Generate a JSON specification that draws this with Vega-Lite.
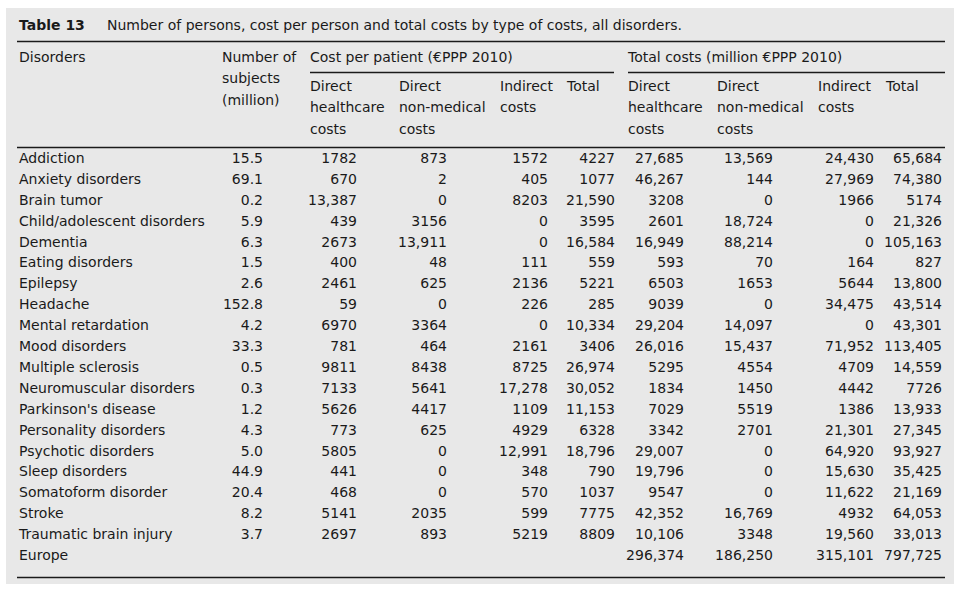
{
  "$schema": "https://vega.github.io/schema/vega-lite/v6.json",
  "background": "white",
  "padding": {"left": 6, "top": 8, "right": 0, "bottom": 0},
  "bounds": "flush",
  "spacing": 0,
  "config": {
    "view": {"stroke": null},
    "text": {"font": "DejaVu Sans", "fontSize": 14, "color": "#1a1a1a", "baseline": "middle", "lineHeight": 21.3},
    "rule": {"color": "#1a1a1a", "strokeWidth": 1.3}
  },
  "datasets": {
    "one": [{}],
    "rows": [
      {"disorder": "Addiction", "subjects": 15.5, "pp_direct_hc": 1782, "pp_direct_nm": 873, "pp_indirect": 1572, "pp_total": 4227, "tc_direct_hc": 27685, "tc_direct_nm": 13569, "tc_indirect": 24430, "tc_total": 65684},
      {"disorder": "Anxiety disorders", "subjects": 69.1, "pp_direct_hc": 670, "pp_direct_nm": 2, "pp_indirect": 405, "pp_total": 1077, "tc_direct_hc": 46267, "tc_direct_nm": 144, "tc_indirect": 27969, "tc_total": 74380},
      {"disorder": "Brain tumor", "subjects": 0.2, "pp_direct_hc": 13387, "pp_direct_nm": 0, "pp_indirect": 8203, "pp_total": 21590, "tc_direct_hc": 3208, "tc_direct_nm": 0, "tc_indirect": 1966, "tc_total": 5174},
      {"disorder": "Child/adolescent disorders", "subjects": 5.9, "pp_direct_hc": 439, "pp_direct_nm": 3156, "pp_indirect": 0, "pp_total": 3595, "tc_direct_hc": 2601, "tc_direct_nm": 18724, "tc_indirect": 0, "tc_total": 21326},
      {"disorder": "Dementia", "subjects": 6.3, "pp_direct_hc": 2673, "pp_direct_nm": 13911, "pp_indirect": 0, "pp_total": 16584, "tc_direct_hc": 16949, "tc_direct_nm": 88214, "tc_indirect": 0, "tc_total": 105163},
      {"disorder": "Eating disorders", "subjects": 1.5, "pp_direct_hc": 400, "pp_direct_nm": 48, "pp_indirect": 111, "pp_total": 559, "tc_direct_hc": 593, "tc_direct_nm": 70, "tc_indirect": 164, "tc_total": 827},
      {"disorder": "Epilepsy", "subjects": 2.6, "pp_direct_hc": 2461, "pp_direct_nm": 625, "pp_indirect": 2136, "pp_total": 5221, "tc_direct_hc": 6503, "tc_direct_nm": 1653, "tc_indirect": 5644, "tc_total": 13800},
      {"disorder": "Headache", "subjects": 152.8, "pp_direct_hc": 59, "pp_direct_nm": 0, "pp_indirect": 226, "pp_total": 285, "tc_direct_hc": 9039, "tc_direct_nm": 0, "tc_indirect": 34475, "tc_total": 43514},
      {"disorder": "Mental retardation", "subjects": 4.2, "pp_direct_hc": 6970, "pp_direct_nm": 3364, "pp_indirect": 0, "pp_total": 10334, "tc_direct_hc": 29204, "tc_direct_nm": 14097, "tc_indirect": 0, "tc_total": 43301},
      {"disorder": "Mood disorders", "subjects": 33.3, "pp_direct_hc": 781, "pp_direct_nm": 464, "pp_indirect": 2161, "pp_total": 3406, "tc_direct_hc": 26016, "tc_direct_nm": 15437, "tc_indirect": 71952, "tc_total": 113405},
      {"disorder": "Multiple sclerosis", "subjects": 0.5, "pp_direct_hc": 9811, "pp_direct_nm": 8438, "pp_indirect": 8725, "pp_total": 26974, "tc_direct_hc": 5295, "tc_direct_nm": 4554, "tc_indirect": 4709, "tc_total": 14559},
      {"disorder": "Neuromuscular disorders", "subjects": 0.3, "pp_direct_hc": 7133, "pp_direct_nm": 5641, "pp_indirect": 17278, "pp_total": 30052, "tc_direct_hc": 1834, "tc_direct_nm": 1450, "tc_indirect": 4442, "tc_total": 7726},
      {"disorder": "Parkinson's disease", "subjects": 1.2, "pp_direct_hc": 5626, "pp_direct_nm": 4417, "pp_indirect": 1109, "pp_total": 11153, "tc_direct_hc": 7029, "tc_direct_nm": 5519, "tc_indirect": 1386, "tc_total": 13933},
      {"disorder": "Personality disorders", "subjects": 4.3, "pp_direct_hc": 773, "pp_direct_nm": 625, "pp_indirect": 4929, "pp_total": 6328, "tc_direct_hc": 3342, "tc_direct_nm": 2701, "tc_indirect": 21301, "tc_total": 27345},
      {"disorder": "Psychotic disorders", "subjects": 5.0, "pp_direct_hc": 5805, "pp_direct_nm": 0, "pp_indirect": 12991, "pp_total": 18796, "tc_direct_hc": 29007, "tc_direct_nm": 0, "tc_indirect": 64920, "tc_total": 93927},
      {"disorder": "Sleep disorders", "subjects": 44.9, "pp_direct_hc": 441, "pp_direct_nm": 0, "pp_indirect": 348, "pp_total": 790, "tc_direct_hc": 19796, "tc_direct_nm": 0, "tc_indirect": 15630, "tc_total": 35425},
      {"disorder": "Somatoform disorder", "subjects": 20.4, "pp_direct_hc": 468, "pp_direct_nm": 0, "pp_indirect": 570, "pp_total": 1037, "tc_direct_hc": 9547, "tc_direct_nm": 0, "tc_indirect": 11622, "tc_total": 21169},
      {"disorder": "Stroke", "subjects": 8.2, "pp_direct_hc": 5141, "pp_direct_nm": 2035, "pp_indirect": 599, "pp_total": 7775, "tc_direct_hc": 42352, "tc_direct_nm": 16769, "tc_indirect": 4932, "tc_total": 64053},
      {"disorder": "Traumatic brain injury", "subjects": 3.7, "pp_direct_hc": 2697, "pp_direct_nm": 893, "pp_indirect": 5219, "pp_total": 8809, "tc_direct_hc": 10106, "tc_direct_nm": 3348, "tc_indirect": 19560, "tc_total": 33013},
      {"disorder": "Europe", "subjects": null, "pp_direct_hc": null, "pp_direct_nm": null, "pp_indirect": null, "pp_total": null, "tc_direct_hc": 296374, "tc_direct_nm": 186250, "tc_indirect": 315101, "tc_total": 797725}
    ]
  },
  "resolve": {"scale": {"x": "independent", "y": "independent"}},
  "hconcat": [
    {
      "width": 216, "height": 576,
      "layer": [
        {"data": {"name": "one"}, "mark": {"type": "rect", "color": "#e8e8e8"}, "encoding": {"x": {"value": 0}, "x2": {"value": 948}, "y": {"value": 0}, "y2": {"value": "height"}}},
        {"data": {"name": "one"}, "mark": {"type": "text", "align": "left", "fontWeight": "bold"}, "encoding": {"x": {"value": 13}, "y": {"value": 18}, "text": {"value": "Table 13"}}},
        {"data": {"name": "one"}, "mark": {"type": "text", "align": "left"}, "encoding": {"x": {"value": 101}, "y": {"value": 18}, "text": {"value": "Number of persons, cost per person and total costs by type of costs, all disorders."}}},
        {"data": {"name": "one"}, "mark": "rule", "encoding": {"y": {"value": 33.5}, "x": {"value": 11}, "x2": {"value": "width"}}},
        {"data": {"name": "one"}, "mark": {"type": "text", "align": "left"}, "encoding": {"x": {"value": 13}, "y": {"value": 50}, "text": {"value": "Disorders"}}},
        {"data": {"name": "one"}, "mark": "rule", "encoding": {"y": {"value": 139.5}, "x": {"value": 11}, "x2": {"value": "width"}}},
        {"data": {"name": "one"}, "mark": "rule", "encoding": {"y": {"value": 569.5}, "x": {"value": 11}, "x2": {"value": "width"}}},
        {"data": {"name": "rows"}, "mark": {"type": "text", "align": "left"},
         "encoding": {"x": {"value": 13}, "y": {"field": "disorder", "type": "nominal", "sort": null, "scale": {"type": "point", "range": [151, 548], "padding": 0}, "axis": null}, "text": {"field": "disorder", "type": "nominal"}}}
      ]
    },
    {
      "width": 88, "height": 576,
      "layer": [
        {"data": {"name": "one"}, "mark": "rule", "encoding": {"y": {"value": 33.5}}},
        {"data": {"name": "one"}, "mark": {"type": "text", "align": "left"}, "encoding": {"x": {"value": 0}, "y": {"value": 50}, "text": {"value": ["Number of", "subjects", "(million)"]}}},
        {"data": {"name": "one"}, "mark": "rule", "encoding": {"y": {"value": 139.5}}},
        {"data": {"name": "one"}, "mark": "rule", "encoding": {"y": {"value": 569.5}}},
        {"data": {"name": "rows"}, "mark": {"type": "text", "align": "right"},
         "encoding": {"x": {"value": 41}, "y": {"field": "disorder", "type": "nominal", "sort": null, "scale": {"type": "point", "range": [151, 548], "padding": 0}, "axis": null},
           "text": {"condition": {"test": "isValid(datum.subjects)", "field": "subjects", "type": "quantitative", "format": ".1f"}, "value": ""}}}
      ]
    },
    {
      "width": 89, "height": 576,
      "layer": [
        {"data": {"name": "one"}, "mark": "rule", "encoding": {"y": {"value": 33.5}}},
        {"data": {"name": "one"}, "mark": {"type": "text", "align": "left"}, "encoding": {"x": {"value": 0}, "y": {"value": 50}, "text": {"value": "Cost per patient (€PPP 2010)"}}},
        {"data": {"name": "one"}, "mark": "rule", "encoding": {"y": {"value": 64.5}}},
        {"data": {"name": "one"}, "mark": {"type": "text", "align": "left"}, "encoding": {"x": {"value": 0}, "y": {"value": 79}, "text": {"value": ["Direct", "healthcare", "costs"]}}},
        {"data": {"name": "one"}, "mark": "rule", "encoding": {"y": {"value": 139.5}}},
        {"data": {"name": "one"}, "mark": "rule", "encoding": {"y": {"value": 569.5}}},
        {"data": {"name": "rows"}, "mark": {"type": "text", "align": "right"},
         "encoding": {"x": {"value": 47}, "y": {"field": "disorder", "type": "nominal", "sort": null, "scale": {"type": "point", "range": [151, 548], "padding": 0}, "axis": null},
           "text": {"condition": {"test": "isValid(datum.pp_direct_hc) && datum.pp_direct_hc < 10000", "field": "pp_direct_hc", "type": "quantitative", "format": "d"}, "value": ""}}},
        {"data": {"name": "rows"}, "mark": {"type": "text", "align": "right"},
         "encoding": {"x": {"value": 47}, "y": {"field": "disorder", "type": "nominal", "sort": null, "scale": {"type": "point", "range": [151, 548], "padding": 0}, "axis": null},
           "text": {"condition": {"test": "isValid(datum.pp_direct_hc) && datum.pp_direct_hc >= 10000", "field": "pp_direct_hc", "type": "quantitative", "format": ","}, "value": ""}}}
      ]
    },
    {
      "width": 101, "height": 576,
      "layer": [
        {"data": {"name": "one"}, "mark": "rule", "encoding": {"y": {"value": 33.5}}},
        {"data": {"name": "one"}, "mark": "rule", "encoding": {"y": {"value": 64.5}}},
        {"data": {"name": "one"}, "mark": {"type": "text", "align": "left"}, "encoding": {"x": {"value": 0}, "y": {"value": 79}, "text": {"value": ["Direct", "non-medical", "costs"]}}},
        {"data": {"name": "one"}, "mark": "rule", "encoding": {"y": {"value": 139.5}}},
        {"data": {"name": "one"}, "mark": "rule", "encoding": {"y": {"value": 569.5}}},
        {"data": {"name": "rows"}, "mark": {"type": "text", "align": "right"},
         "encoding": {"x": {"value": 48}, "y": {"field": "disorder", "type": "nominal", "sort": null, "scale": {"type": "point", "range": [151, 548], "padding": 0}, "axis": null},
           "text": {"condition": {"test": "isValid(datum.pp_direct_nm) && datum.pp_direct_nm < 10000", "field": "pp_direct_nm", "type": "quantitative", "format": "d"}, "value": ""}}},
        {"data": {"name": "rows"}, "mark": {"type": "text", "align": "right"},
         "encoding": {"x": {"value": 48}, "y": {"field": "disorder", "type": "nominal", "sort": null, "scale": {"type": "point", "range": [151, 548], "padding": 0}, "axis": null},
           "text": {"condition": {"test": "isValid(datum.pp_direct_nm) && datum.pp_direct_nm >= 10000", "field": "pp_direct_nm", "type": "quantitative", "format": ","}, "value": ""}}}
      ]
    },
    {
      "width": 67, "height": 576,
      "layer": [
        {"data": {"name": "one"}, "mark": "rule", "encoding": {"y": {"value": 33.5}}},
        {"data": {"name": "one"}, "mark": "rule", "encoding": {"y": {"value": 64.5}}},
        {"data": {"name": "one"}, "mark": {"type": "text", "align": "left"}, "encoding": {"x": {"value": 0}, "y": {"value": 79}, "text": {"value": ["Indirect", "costs"]}}},
        {"data": {"name": "one"}, "mark": "rule", "encoding": {"y": {"value": 139.5}}},
        {"data": {"name": "one"}, "mark": "rule", "encoding": {"y": {"value": 569.5}}},
        {"data": {"name": "rows"}, "mark": {"type": "text", "align": "right"},
         "encoding": {"x": {"value": 48}, "y": {"field": "disorder", "type": "nominal", "sort": null, "scale": {"type": "point", "range": [151, 548], "padding": 0}, "axis": null},
           "text": {"condition": {"test": "isValid(datum.pp_indirect) && datum.pp_indirect < 10000", "field": "pp_indirect", "type": "quantitative", "format": "d"}, "value": ""}}},
        {"data": {"name": "rows"}, "mark": {"type": "text", "align": "right"},
         "encoding": {"x": {"value": 48}, "y": {"field": "disorder", "type": "nominal", "sort": null, "scale": {"type": "point", "range": [151, 548], "padding": 0}, "axis": null},
           "text": {"condition": {"test": "isValid(datum.pp_indirect) && datum.pp_indirect >= 10000", "field": "pp_indirect", "type": "quantitative", "format": ","}, "value": ""}}}
      ]
    },
    {
      "width": 61, "height": 576,
      "layer": [
        {"data": {"name": "one"}, "mark": "rule", "encoding": {"y": {"value": 33.5}}},
        {"data": {"name": "one"}, "mark": "rule", "encoding": {"y": {"value": 64.5}, "x": {"value": 0}, "x2": {"value": 47}}},
        {"data": {"name": "one"}, "mark": {"type": "text", "align": "left"}, "encoding": {"x": {"value": 0}, "y": {"value": 79}, "text": {"value": "Total"}}},
        {"data": {"name": "one"}, "mark": "rule", "encoding": {"y": {"value": 139.5}}},
        {"data": {"name": "one"}, "mark": "rule", "encoding": {"y": {"value": 569.5}}},
        {"data": {"name": "rows"}, "mark": {"type": "text", "align": "right"},
         "encoding": {"x": {"value": 48}, "y": {"field": "disorder", "type": "nominal", "sort": null, "scale": {"type": "point", "range": [151, 548], "padding": 0}, "axis": null},
           "text": {"condition": {"test": "isValid(datum.pp_total) && datum.pp_total < 10000", "field": "pp_total", "type": "quantitative", "format": "d"}, "value": ""}}},
        {"data": {"name": "rows"}, "mark": {"type": "text", "align": "right"},
         "encoding": {"x": {"value": 48}, "y": {"field": "disorder", "type": "nominal", "sort": null, "scale": {"type": "point", "range": [151, 548], "padding": 0}, "axis": null},
           "text": {"condition": {"test": "isValid(datum.pp_total) && datum.pp_total >= 10000", "field": "pp_total", "type": "quantitative", "format": ","}, "value": ""}}}
      ]
    },
    {
      "width": 89, "height": 576,
      "layer": [
        {"data": {"name": "one"}, "mark": "rule", "encoding": {"y": {"value": 33.5}}},
        {"data": {"name": "one"}, "mark": {"type": "text", "align": "left"}, "encoding": {"x": {"value": 0}, "y": {"value": 50}, "text": {"value": "Total costs (million €PPP 2010)"}}},
        {"data": {"name": "one"}, "mark": "rule", "encoding": {"y": {"value": 64.5}}},
        {"data": {"name": "one"}, "mark": {"type": "text", "align": "left"}, "encoding": {"x": {"value": 0}, "y": {"value": 79}, "text": {"value": ["Direct", "healthcare", "costs"]}}},
        {"data": {"name": "one"}, "mark": "rule", "encoding": {"y": {"value": 139.5}}},
        {"data": {"name": "one"}, "mark": "rule", "encoding": {"y": {"value": 569.5}}},
        {"data": {"name": "rows"}, "mark": {"type": "text", "align": "right"},
         "encoding": {"x": {"value": 56}, "y": {"field": "disorder", "type": "nominal", "sort": null, "scale": {"type": "point", "range": [151, 548], "padding": 0}, "axis": null},
           "text": {"condition": {"test": "isValid(datum.tc_direct_hc) && datum.tc_direct_hc < 10000", "field": "tc_direct_hc", "type": "quantitative", "format": "d"}, "value": ""}}},
        {"data": {"name": "rows"}, "mark": {"type": "text", "align": "right"},
         "encoding": {"x": {"value": 56}, "y": {"field": "disorder", "type": "nominal", "sort": null, "scale": {"type": "point", "range": [151, 548], "padding": 0}, "axis": null},
           "text": {"condition": {"test": "isValid(datum.tc_direct_hc) && datum.tc_direct_hc >= 10000", "field": "tc_direct_hc", "type": "quantitative", "format": ","}, "value": ""}}}
      ]
    },
    {
      "width": 101, "height": 576,
      "layer": [
        {"data": {"name": "one"}, "mark": "rule", "encoding": {"y": {"value": 33.5}}},
        {"data": {"name": "one"}, "mark": "rule", "encoding": {"y": {"value": 64.5}}},
        {"data": {"name": "one"}, "mark": {"type": "text", "align": "left"}, "encoding": {"x": {"value": 0}, "y": {"value": 79}, "text": {"value": ["Direct", "non-medical", "costs"]}}},
        {"data": {"name": "one"}, "mark": "rule", "encoding": {"y": {"value": 139.5}}},
        {"data": {"name": "one"}, "mark": "rule", "encoding": {"y": {"value": 569.5}}},
        {"data": {"name": "rows"}, "mark": {"type": "text", "align": "right"},
         "encoding": {"x": {"value": 56}, "y": {"field": "disorder", "type": "nominal", "sort": null, "scale": {"type": "point", "range": [151, 548], "padding": 0}, "axis": null},
           "text": {"condition": {"test": "isValid(datum.tc_direct_nm) && datum.tc_direct_nm < 10000", "field": "tc_direct_nm", "type": "quantitative", "format": "d"}, "value": ""}}},
        {"data": {"name": "rows"}, "mark": {"type": "text", "align": "right"},
         "encoding": {"x": {"value": 56}, "y": {"field": "disorder", "type": "nominal", "sort": null, "scale": {"type": "point", "range": [151, 548], "padding": 0}, "axis": null},
           "text": {"condition": {"test": "isValid(datum.tc_direct_nm) && datum.tc_direct_nm >= 10000", "field": "tc_direct_nm", "type": "quantitative", "format": ","}, "value": ""}}}
      ]
    },
    {
      "width": 68, "height": 576,
      "layer": [
        {"data": {"name": "one"}, "mark": "rule", "encoding": {"y": {"value": 33.5}}},
        {"data": {"name": "one"}, "mark": "rule", "encoding": {"y": {"value": 64.5}}},
        {"data": {"name": "one"}, "mark": {"type": "text", "align": "left"}, "encoding": {"x": {"value": 0}, "y": {"value": 79}, "text": {"value": ["Indirect", "costs"]}}},
        {"data": {"name": "one"}, "mark": "rule", "encoding": {"y": {"value": 139.5}}},
        {"data": {"name": "one"}, "mark": "rule", "encoding": {"y": {"value": 569.5}}},
        {"data": {"name": "rows"}, "mark": {"type": "text", "align": "right"},
         "encoding": {"x": {"value": 56}, "y": {"field": "disorder", "type": "nominal", "sort": null, "scale": {"type": "point", "range": [151, 548], "padding": 0}, "axis": null},
           "text": {"condition": {"test": "isValid(datum.tc_indirect) && datum.tc_indirect < 10000", "field": "tc_indirect", "type": "quantitative", "format": "d"}, "value": ""}}},
        {"data": {"name": "rows"}, "mark": {"type": "text", "align": "right"},
         "encoding": {"x": {"value": 56}, "y": {"field": "disorder", "type": "nominal", "sort": null, "scale": {"type": "point", "range": [151, 548], "padding": 0}, "axis": null},
           "text": {"condition": {"test": "isValid(datum.tc_indirect) && datum.tc_indirect >= 10000", "field": "tc_indirect", "type": "quantitative", "format": ","}, "value": ""}}}
      ]
    },
    {
      "width": 68, "height": 576,
      "layer": [
        {"data": {"name": "one"}, "mark": "rule", "encoding": {"y": {"value": 33.5}, "x": {"value": 0}, "x2": {"value": 59}}},
        {"data": {"name": "one"}, "mark": "rule", "encoding": {"y": {"value": 64.5}, "x": {"value": 0}, "x2": {"value": 59}}},
        {"data": {"name": "one"}, "mark": {"type": "text", "align": "left"}, "encoding": {"x": {"value": 0}, "y": {"value": 79}, "text": {"value": "Total"}}},
        {"data": {"name": "one"}, "mark": "rule", "encoding": {"y": {"value": 139.5}, "x": {"value": 0}, "x2": {"value": 59}}},
        {"data": {"name": "one"}, "mark": "rule", "encoding": {"y": {"value": 569.5}, "x": {"value": 0}, "x2": {"value": 59}}},
        {"data": {"name": "rows"}, "mark": {"type": "text", "align": "right"},
         "encoding": {"x": {"value": 56}, "y": {"field": "disorder", "type": "nominal", "sort": null, "scale": {"type": "point", "range": [151, 548], "padding": 0}, "axis": null},
           "text": {"condition": {"test": "isValid(datum.tc_total) && datum.tc_total < 10000", "field": "tc_total", "type": "quantitative", "format": "d"}, "value": ""}}},
        {"data": {"name": "rows"}, "mark": {"type": "text", "align": "right"},
         "encoding": {"x": {"value": 56}, "y": {"field": "disorder", "type": "nominal", "sort": null, "scale": {"type": "point", "range": [151, 548], "padding": 0}, "axis": null},
           "text": {"condition": {"test": "isValid(datum.tc_total) && datum.tc_total >= 10000", "field": "tc_total", "type": "quantitative", "format": ","}, "value": ""}}}
      ]
    }
  ]
}
